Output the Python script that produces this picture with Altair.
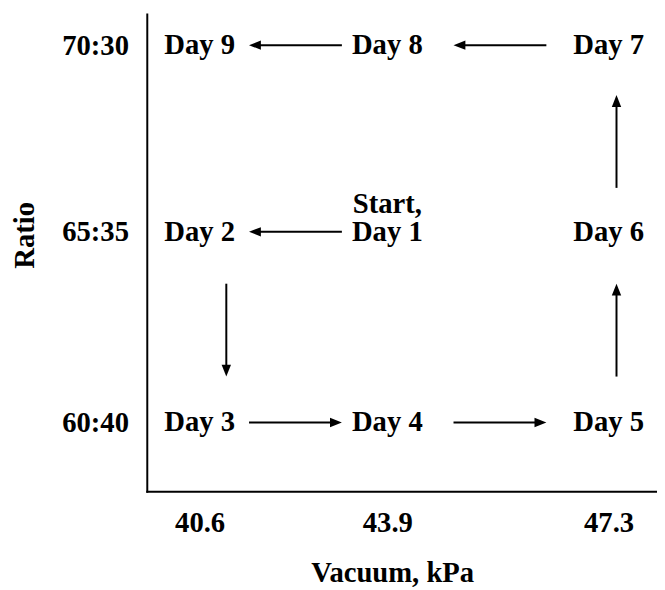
import json
import math
import altair as alt
import pandas as pd

# ---------------- data ----------------
vacuum_kpa = [40.6, 43.9, 47.3]
ratio_labels = ["60:40", "65:35", "70:30"]
day_labels = ["Day 1", "Day 2", "Day 3", "Day 4", "Day 5",
              "Day 6", "Day 7", "Day 8", "Day 9"]
day_vacuum = [43.9, 40.6, 40.6, 43.9, 47.3, 47.3, 47.3, 43.9, 40.6]
day_ratio = ["65:35", "65:35", "60:40", "60:40", "60:40",
             "65:35", "70:30", "70:30", "70:30"]
start_note = "Start,"

# ---------------- style ----------------
FONT = "Liberation Serif"
FS = 29
W, H = 516, 484
X_PX = [53, 243, 467]          # pixel positions of the vacuum columns
Y_PX = [414, 221, 32]          # pixel positions of the ratio rows
ARROW_HALF = 47                # half arrow length, px
HEAD_LEN = 12
SIDE_SHIFT = [0, 27, 0, 0, 8, 8, 0, 0]   # sideways shift of each arrow, px
H_NUDGE, V_NUDGE = 2, 3

row_idx = list(range(len(ratio_labels)))


def seg_interp(v, xs, ys):
    if xs[0] > xs[-1]:
        xs, ys = xs[::-1], ys[::-1]
    i = 0
    while i < len(xs) - 2 and v > xs[i + 1]:
        i += 1
    t = (v - xs[i]) / (xs[i + 1] - xs[i])
    return ys[i] + t * (ys[i + 1] - ys[i])


days_df = pd.DataFrame({
    "day": day_labels,
    "vac": day_vacuum,
    "row": [ratio_labels.index(r) for r in day_ratio],
})
days_df["note"] = ["" for _ in day_labels]
days_df.loc[0, "note"] = start_note

arrows = []
for k in range(len(day_labels) - 1):
    ax = seg_interp(day_vacuum[k], vacuum_kpa, X_PX)
    ay = seg_interp(ratio_labels.index(day_ratio[k]), row_idx, Y_PX)
    bx = seg_interp(day_vacuum[k + 1], vacuum_kpa, X_PX)
    by = seg_interp(ratio_labels.index(day_ratio[k + 1]), row_idx, Y_PX)
    dx, dy = bx - ax, by - ay
    L = math.hypot(dx, dy)
    ux, uy = dx / L, dy / L
    mx, my = (ax + bx) / 2, (ay + by) / 2
    if abs(uy) < 1e-9:
        mx += H_NUDGE
    else:
        mx += SIDE_SHIFT[k]
        my += V_NUDGE
    tx, ty = mx - ux * ARROW_HALF, my - uy * ARROW_HALF
    px_, py_ = mx + ux * ARROW_HALF, my + uy * ARROW_HALF
    ex, ey = px_ - ux * (HEAD_LEN - 3), py_ - uy * (HEAD_LEN - 3)
    arrows.append({
        "x0": seg_interp(tx, X_PX, vacuum_kpa),
        "y0": seg_interp(ty, Y_PX, row_idx),
        "x1": seg_interp(ex, X_PX, vacuum_kpa),
        "y1": seg_interp(ey, Y_PX, row_idx),
        "hx": seg_interp(px_, X_PX, vacuum_kpa),
        "hy": seg_interp(py_, Y_PX, row_idx),
        "angle": math.degrees(math.atan2(uy, ux)) % 360,
    })
arrows_df = pd.DataFrame(arrows)

xs = alt.Scale(domain=vacuum_kpa, range=X_PX, zero=False, nice=False)
ys = alt.Scale(domain=row_idx, range=Y_PX, zero=False, nice=False)

x_axis = alt.Axis(
    values=vacuum_kpa, format=".1f", title="Vacuum, kPa",
    labelFont=FONT, labelFontSize=FS, labelFontWeight="bold", labelColor="black",
    labelPadding=17, labelFlush=False, labelOverlap=False,
    ticks=False, tickSize=0, grid=False, domain=False,
    titleFont=FONT, titleFontSize=FS, titleFontWeight="bold", titleColor="black",
    titleX=248, titleY=91, titleBaseline="alphabetic", titleAlign="center",
)
y_axis = alt.Axis(
    values=row_idx, labelExpr=json.dumps(ratio_labels) + "[datum.value]",
    title="Ratio",
    labelFont=FONT, labelFontSize=FS, labelFontWeight="bold", labelColor="black",
    labelPadding=19, labelFlush=False, labelOverlap=False, labelBaseline="middle",
    ticks=False, tickSize=0, grid=False, domain=False,
    titleFont=FONT, titleFontSize=FS, titleFontWeight="bold", titleColor="black",
    titleAngle=270, titleX=-115, titleY=224, titleBaseline="alphabetic",
    titleAlign="center",
)

X = lambda f: alt.X(f, scale=xs, axis=x_axis, title="Vacuum, kPa")
Y = lambda f: alt.Y(f, scale=ys, axis=y_axis, title="Ratio")

text_style = dict(font=FONT, fontSize=FS, fontWeight="bold", color="black",
                  align="center", baseline="middle")

day_text = alt.Chart(days_df).mark_text(**text_style).encode(
    x=X("vac:Q"), y=Y("row:Q"), text="day:N",
)
note_text = alt.Chart(days_df).transform_filter("datum.note != ''").mark_text(
    dy=-28, **text_style
).encode(
    x=X("vac:Q"), y=Y("row:Q"), text="note:N",
)
shafts = alt.Chart(arrows_df).mark_rule(color="black", strokeWidth=2).encode(
    x=X("x0:Q"), x2="x1:Q", y=Y("y0:Q"), y2="y1:Q",
)
heads = alt.Chart(arrows_df).mark_point(
    shape="M0,0L-2.4,-0.95L-2.4,0.95Z", filled=True, size=100,
    color="black", opacity=1, strokeWidth=0,
).encode(
    x=X("hx:Q"), y=Y("hy:Q"),
    angle=alt.Angle("angle:Q", scale=None),
)

one = pd.DataFrame({"k": [0]})
left_line = alt.Chart(one).mark_rule(color="black", strokeWidth=2).encode(
    x=alt.value(0), y=alt.value(0), y2=alt.value(H + 1)
)
bottom_line = alt.Chart(one).mark_rule(color="black", strokeWidth=2).encode(
    x=alt.value(-1), x2=alt.value(W), y=alt.value(H)
)

chart = alt.layer(
    day_text, note_text, shafts, heads, left_line, bottom_line
).properties(
    width=W, height=H,
    autosize=alt.AutoSizeParams(type="none"),
    padding={"left": 141, "top": 2, "right": 0, "bottom": 98},
    background="white",
).configure_view(stroke=None)

chart.save("out.html", embed_options={"renderer": "svg", "actions": False})
